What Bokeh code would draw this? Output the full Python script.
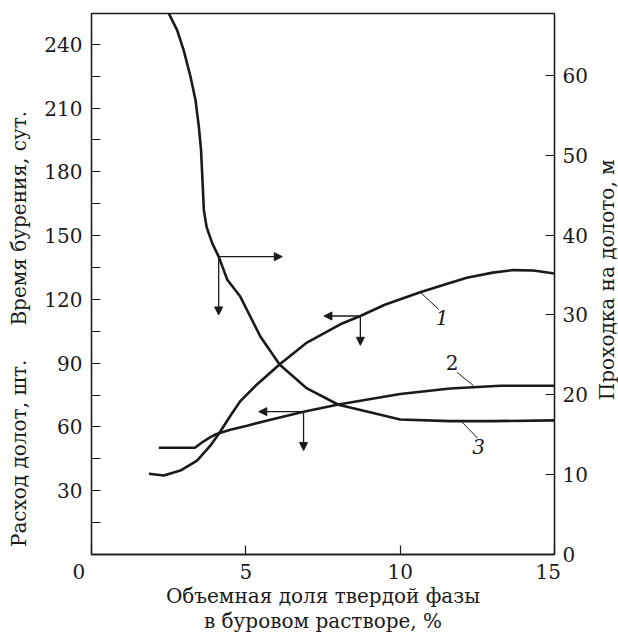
import math
from bokeh.plotting import figure
from bokeh.layouts import row
from bokeh.models import Range1d, LinearAxis, FixedTicker, Label, Arrow, NormalHead
from bokeh.embed import file_html
from bokeh.resources import INLINE

# ---- data ----
# curve 1: left axis
x1 = [1.86, 2.34, 2.88, 3.42, 3.85, 4.12, 4.5, 4.83, 5.36, 6.1, 6.98, 8.06, 8.71, 9.5, 10.65, 11.5, 12.16, 13.0, 13.67, 14.31, 15.0]
y1 = [38.0, 37.2, 39.5, 44.2, 51.2, 56.7, 65.3, 72.3, 80.0, 89.5, 99.7, 108.3, 112.2, 117.5, 123.4, 127.3, 130.2, 132.6, 133.8, 133.6, 132.2]
# curve 2: left axis
x2 = [2.18, 3.35, 3.59, 3.85, 4.05, 4.5, 5.04, 5.8, 6.87, 8.0, 10.0, 11.62, 13.24, 15.0]
y2 = [50.2, 50.2, 52.8, 55.2, 56.7, 58.7, 60.6, 63.4, 67.2, 70.6, 75.5, 78.1, 79.4, 79.4]
# curve 3: right axis
x3 = [2.5, 2.78, 2.99, 3.21, 3.37, 3.48, 3.55, 3.6, 3.64, 3.73, 3.91, 4.12, 4.4, 4.82, 5.47, 6.1, 6.98, 8.0, 8.92, 10.0, 11.62, 13.0, 15.0]
y3 = [67.8, 65.6, 63.1, 59.8, 56.9, 53.5, 50.6, 46.5, 43.1, 41.0, 39.0, 37.3, 34.4, 32.3, 27.3, 23.75, 20.8, 18.75, 17.9, 16.9, 16.7, 16.7, 16.8]

left_ticks = [30, 60, 90, 120, 150, 180, 210, 240]
left_minor = [15, 45, 75, 105, 135, 165, 195, 225]
right_ticks = [0, 10, 20, 30, 40, 50, 60]
x_ticks = [0, 5, 10, 15]
x_tick_labels = {0: "0\u2007\u2007", 5: "5", 10: "10", 15: "15\u2007"}

FONT = "DejaVu Serif"
INK = "#1a1a1a"
EM, EN, THIN = "\u2003", "\u2002", "\u2009"

MAIN_W, STRIP_W, H = 594, 24, 636

p = figure(width=MAIN_W, height=H, x_range=Range1d(0, 15), y_range=Range1d(0, 254.5),
           output_backend="svg", toolbar_location=None, title=None,
           min_border_left=91, min_border_top=13, min_border_right=40, min_border_bottom=80)
p.extra_y_ranges = {"right": Range1d(0, 67.75)}
p.grid.visible = False
p.outline_line_color = INK
p.outline_line_width = 1.3

def style_axis(ax):
    ax.axis_line_color = INK
    ax.axis_line_width = 1.3
    ax.major_tick_line_color = INK
    ax.minor_tick_line_color = INK
    ax.major_tick_line_width = 1.2
    ax.minor_tick_line_width = 1.2
    ax.major_tick_in = 9
    ax.major_tick_out = 0
    ax.minor_tick_in = 9
    ax.minor_tick_out = 0
    ax.major_label_text_font = FONT
    ax.major_label_text_font_size = "20px"
    ax.major_label_text_color = INK
    ax.axis_label_text_font = FONT
    ax.axis_label_text_font_size = "20px"
    ax.axis_label_text_font_style = "normal"
    ax.axis_label_text_color = INK

xa = p.xaxis[0]
xa.ticker = FixedTicker(ticks=x_ticks)
xa.major_label_overrides = x_tick_labels
style_axis(xa)
xa.major_label_standoff = 5
xa.axis_label = "Объемная доля твердой фазы\nв буровом растворе, %"
xa.axis_label_standoff = -3
xa.axis_label_text_line_height = 1.07

ya = p.yaxis[0]
ya.ticker = FixedTicker(ticks=left_ticks, minor_ticks=left_minor)
style_axis(ya)
ya.major_label_standoff = 9
ya.axis_label = "Расход долот, шт." + EM + EN + THIN + "Время бурения, сут." + EM * 4 + EN
ya.axis_label_standoff = 10

# right axis: ticks and numbers
ra = LinearAxis(y_range_name="right", ticker=FixedTicker(ticks=right_ticks))
style_axis(ra)
ra.major_label_standoff = 8
p.add_layout(ra, "right")

# curves
p.line(x1, y1, line_color=INK, line_width=2.6)
p.line(x2, y2, line_color=INK, line_width=2.6)
p.line(x3, y3, line_color=INK, line_width=2.6, y_range_name="right")

# arrows from a point on a curve: horizontal to xend, vertical to yend
def arrows(xs, ys, xa0, xend, yend, rng="default"):
    i = xs.index(xa0)
    for (xe, ye) in [(xend, ys[i]), (xs[i], yend)]:
        p.add_layout(Arrow(x_start=xs[i], y_start=ys[i], x_end=xe, y_end=ye,
                           line_color=INK, line_width=1.3, y_range_name=rng,
                           end=NormalHead(size=8, fill_color=INK, line_color=INK)))

arrows(x3, y3, 4.12, 6.18, 30.0, "right")
arrows(x1, y1, 8.71, 7.53, 98.4)
arrows(x2, y2, 6.87, 5.42, 48.9)

# leader lines
p.segment(x0=[10.65, 11.85], y0=[123.4, 85.6], x1=[11.25, 12.38], y1=[115.3, 79.4], line_color=INK, line_width=1.0)
p.segment(x0=[12.0], y0=[16.6], x1=[12.5], y1=[14.6], line_color=INK, line_width=1.0, y_range_name="right")

def lab(fig, x, y, t, style="normal", rng="default", angle=0.0):
    fig.add_layout(Label(x=x, y=y, text=t, text_font=FONT, text_font_size="20px", text_color=INK,
                         text_align="center", text_baseline="middle", angle=angle,
                         text_font_style=style, y_range_name=rng))

lab(p, 11.36, 111.4, "1", style="italic")
lab(p, 11.68, 90.3, "2")
lab(p, 12.54, 13.5, "3", style="italic", rng="right")

# narrow strip on the right carrying the right-hand axis title (reads bottom to top)
s = figure(width=STRIP_W, height=H, x_range=Range1d(0, STRIP_W), y_range=Range1d(0, H),
           output_backend="svg", toolbar_location=None, title=None,
           x_axis_type=None, y_axis_type=None, min_border=0)
s.grid.visible = False
s.outline_line_color = None
lab(s, 12, 323, "Проходка на долото, м", angle=math.pi / 2)

layout = row(p, s)
open("out.html", "w").write(file_html(layout, INLINE))
